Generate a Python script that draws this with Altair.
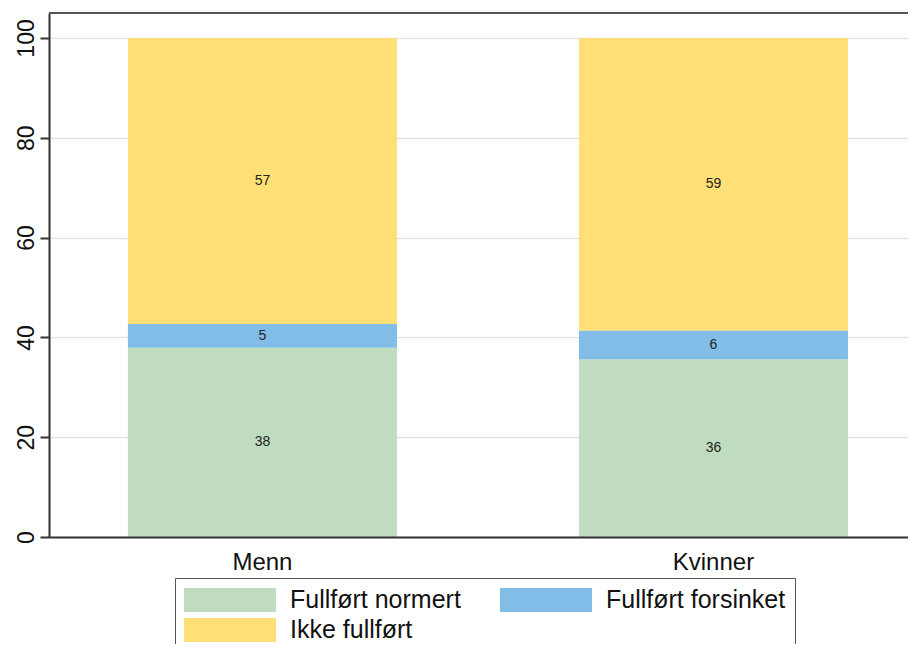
import altair as alt
import pandas as pd

groups = ["Menn", "Kvinner"]
categories = ["Fullført normert", "Fullført forsinket", "Ikke fullført"]
colors = ["#c0dcc0", "#82bde8", "#ffe076"]
menn = [37.9, 4.8, 57.3]
kvinner = [35.6, 5.8, 58.6]
y_ticks = [0, 20, 40, 60, 80, 100]

rows = []
for g, vals in zip(groups, [menn, kvinner]):
    for i, (c, v) in enumerate(zip(categories, vals)):
        rows.append({"group": g, "cat": c, "order": i, "value": v})
df = pd.DataFrame(rows)

FONT = "Liberation Sans"
W, H = 859, 524

base = alt.Chart(df).transform_stack(
    stack="value", groupby=["group"], sort=[alt.SortField("order")], as_=["y0", "y1"]
).transform_calculate(
    mid="(datum.y0 + datum.y1) / 2", lab="format(datum.value, '.0f')"
)

xenc = alt.X(
    "group:N",
    sort=groups,
    scale=alt.Scale(paddingInner=0.4035, paddingOuter=0.154, align=0.568),
    axis=alt.Axis(
        title=None, ticks=False, labelAngle=0, labelFontSize=24, labelFont=FONT,
        labelColor="#111", labelPadding=13, domainColor="#333", domainWidth=2,
        grid=False, zindex=1,
    ),
)

yscale = alt.Scale(domain=[0, 105], nice=False, zero=True)

bars = base.mark_bar(strokeWidth=0).encode(
    x=xenc,
    y=alt.Y(
        "y0:Q", scale=yscale,
        axis=alt.Axis(
            title=None, values=y_ticks, grid=True, gridColor="#e3e3e3", gridWidth=1.5,
            domainColor="#333", domainWidth=2, tickColor="#333", tickWidth=2, tickSize=9,
            labelAngle=270, labelAlign="center", labelBaseline="alphabetic",
            labelFontSize=23, labelFont=FONT, labelColor="#111", labelPadding=7,
        ),
    ),
    y2="y1:Q",
    color=alt.Color(
        "cat:N",
        scale=alt.Scale(domain=categories, range=colors),
        legend=alt.Legend(
            orient="none", legendX=126, legendY=565, columns=2, direction="horizontal",
            title=None, symbolType="M-1,-0.26H1V0.26H-1Z", symbolSize=8464,
            symbolStrokeWidth=0, symbolOpacity=1, labelFontSize=25, labelFont=FONT,
            labelColor="#111", labelOffset=14, columnPadding=39, rowPadding=4,
            padding=9, strokeColor="#555", labelLimit=400, clipHeight=26,
        ),
    ),
    order=alt.Order("order:Q"),
)

labels = base.mark_text(fontSize=14, font=FONT, color="#222", baseline="middle").encode(
    x=alt.X("group:N", sort=groups), y=alt.Y("mid:Q", scale=yscale), text="lab:N"
)

border = alt.Chart(pd.DataFrame({"a": [0]})).mark_rule(color="#555", strokeWidth=2).encode(
    x=alt.value(0), x2=alt.value(W), y=alt.value(0)
)

chart = alt.layer(bars, labels, border).properties(
    width=W, height=H,
    padding={"left": 41, "top": 5, "right": 0, "bottom": 107},
    autosize=alt.AutoSizeParams(type="none"),
).configure_view(stroke=None).configure(background="white")

chart.save("out.html", embed_options={"renderer": "svg", "actions": False})
